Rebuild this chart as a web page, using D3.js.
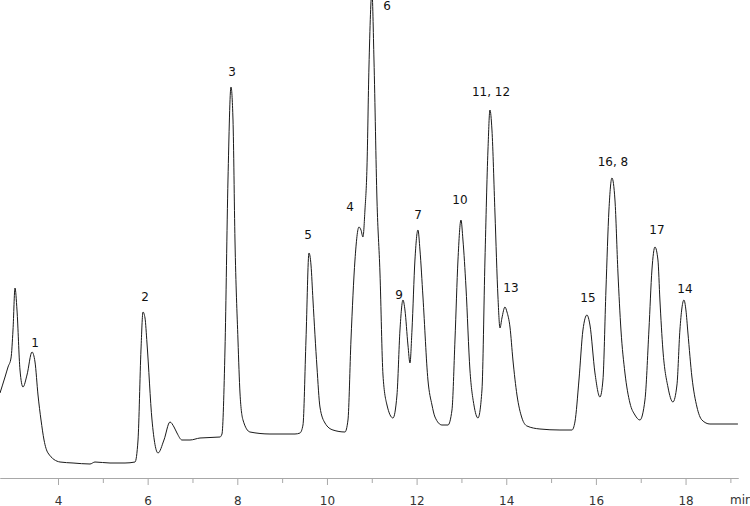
<!DOCTYPE html>
<html lang="en">
<head>
  <meta charset="UTF-8" />
  <title>Chromatogram</title>
  <script src="https://d3js.org/d3.v7.min.js"></script>
  <style>
    body { margin: 0; background: white; font-family: "DejaVu Sans", sans-serif; }
    .trace { fill: none; stroke: #1a1a1a; stroke-width: 1; }
    .axis path, .axis line { stroke: #a8a8a8; }
    .axis text { font-size: 12px; fill: #333; font-family: "DejaVu Sans", sans-serif; }
    .peak-label { font-size: 12px; fill: #111; text-anchor: middle; }
  </style>
</head>
<body>
  <svg id="chart" width="750" height="506"></svg>

  <script>
    // retention time (min) and detector signal
    const times = [
      2.706, 2.818, 2.885, 2.952, 2.996, 3.041, 3.085, 3.152, 3.219, 3.308,
      3.42, 3.487, 3.554, 3.621, 3.688, 3.777, 4.045, 4.335, 4.714, 4.825,
      5.16, 5.495, 5.718, 5.785, 5.851, 5.896, 5.941, 5.985, 6.097, 6.231,
      6.364, 6.498, 6.588, 6.654, 6.766, 6.944, 7.168, 7.614, 7.658, 7.725,
      7.792, 7.859, 7.904, 7.948, 8.015, 8.06, 8.127, 8.283, 8.729, 9.287,
      9.398, 9.465, 9.532, 9.599, 9.644, 9.688, 9.777, 9.844, 9.956, 10.134,
      10.402, 10.469, 10.536, 10.625, 10.714, 10.759, 10.803, 10.848, 10.893, 10.937,
      11.004, 11.049, 11.116, 11.183, 11.25, 11.339, 11.473, 11.562, 11.629, 11.696,
      11.74, 11.807, 11.852, 11.897, 11.963, 12.03, 12.075, 12.142, 12.253, 12.343,
      12.41, 12.566, 12.7, 12.789, 12.856, 12.923, 12.99, 13.034, 13.101, 13.19,
      13.279, 13.369, 13.458, 13.525, 13.592, 13.636, 13.681, 13.748, 13.815, 13.86,
      13.904, 13.971, 14.016, 14.083, 14.149, 14.239, 14.35, 14.462, 14.752, 15.198,
      15.466, 15.532, 15.622, 15.711, 15.8, 15.867, 15.979, 16.09, 16.157, 16.224,
      16.291, 16.358, 16.425, 16.492, 16.559, 16.648, 16.759, 16.871, 16.982, 17.094,
      17.183, 17.25, 17.317, 17.384, 17.428, 17.495, 17.607, 17.718, 17.808, 17.874,
      17.964, 18.008, 18.053, 18.142, 18.254, 18.365, 18.544, 19.168
    ];
    const signal = [
      85, 101, 111, 120, 148, 190, 168, 108, 91, 103,
      126, 116, 83, 58, 38, 25, 16, 15, 14, 16,
      15, 15, 16, 38, 128, 166, 160, 135, 58, 25,
      38, 56, 51, 45, 38, 38, 40, 41, 44, 128,
      298, 391, 358, 238, 138, 85, 58, 46, 44, 44,
      45, 53, 138, 225, 213, 178, 111, 71, 55, 48,
      46, 58, 138, 218, 251, 248, 241, 268, 311, 411,
      486, 418, 278, 205, 103, 73, 60, 83, 148, 178,
      168, 133, 115, 148, 218, 248, 228, 181, 98, 73,
      61, 53, 53, 68, 138, 218, 258, 238, 191, 108,
      73, 60, 88, 218, 328, 368, 348, 265, 181, 150,
      160, 171, 166, 151, 118, 83, 60, 52, 49, 48,
      48, 56, 98, 148, 163, 153, 105, 81, 98, 188,
      268, 300, 278, 205, 148, 105, 75, 63, 58, 78,
      148, 208, 231, 218, 178, 128, 91, 76, 93, 148,
      178, 168, 145, 101, 71, 58, 54, 54
    ];

    // peak annotations
    const peakNames = ["1", "2", "3", "4", "5", "6", "9", "7", "10", "11, 12", "13", "15", "16, 8", "17", "14"];
    const peakLabelTime = [3.487, 5.941, 7.881, 10.514, 9.577, 11.339, 11.607, 12.03, 12.967, 13.659, 14.105, 15.822, 16.38, 17.362, 17.986];
    const peakLabelSignal = [131, 177, 402, 267, 239, 468, 179, 259, 274, 382, 186, 176, 312, 244, 185];

    const majorTicks = [4, 6, 8, 10, 12, 14, 16, 18];
    const minorTicks = [5, 7, 9, 11, 13, 15, 17, 19];

    const svg = d3.select("#chart");
    const axisY = 478;

    const x = d3.scaleLinear().domain([2.706, 19.17]).range([0, 738]);
    const y = d3.scaleLinear().domain([0, 478]).range([axisY, 0]);

    const points = times.map((t, i) => [t, signal[i]]);

    // minor ticks first, then the labelled axis on top
    svg.append("g")
      .attr("class", "axis")
      .attr("transform", `translate(0,${axisY})`)
      .call(d3.axisBottom(x).tickValues(minorTicks).tickSize(5).tickSizeOuter(0).tickFormat(""));

    svg.append("g")
      .attr("class", "axis")
      .attr("transform", `translate(0,${axisY})`)
      .call(d3.axisBottom(x).tickValues(majorTicks).tickSize(7).tickSizeOuter(0).tickPadding(11).tickFormat(d3.format("d")));

    svg.append("text")
      .attr("x", 730)
      .attr("y", 504)
      .attr("font-size", "12px")
      .attr("fill", "#333")
      .text("min");

    const line = d3.line()
      .x(d => x(d[0]))
      .y(d => y(d[1]))
      .curve(d3.curveMonotoneX);

    svg.append("path")
      .datum(points)
      .attr("class", "trace")
      .attr("d", line);

    svg.selectAll(".peak-label")
      .data(peakNames)
      .join("text")
      .attr("class", "peak-label")
      .attr("x", (d, i) => x(peakLabelTime[i]))
      .attr("y", (d, i) => y(peakLabelSignal[i]))
      .text(d => d);
  </script>
</body>
</html>
